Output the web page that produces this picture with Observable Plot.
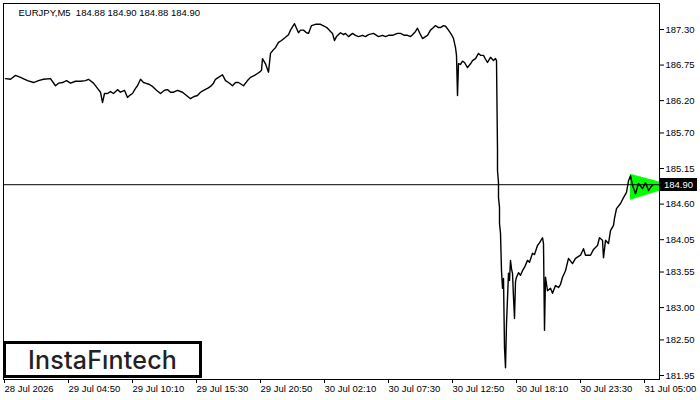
<!DOCTYPE html>
<html><head><meta charset="utf-8">
<script src="https://cdn.jsdelivr.net/npm/d3@7"></script>
<script src="https://cdn.jsdelivr.net/npm/@observablehq/plot@0.6"></script>
<style>
body{margin:0;background:#fff;}
#wrap{position:relative;width:700px;height:400px;overflow:hidden;}
#wrap svg{position:absolute;left:0;top:0;}
#logo{position:absolute;left:3px;top:341px;width:193px;height:31px;border:3px solid #000;background:#fff;font-family:Inter,"Noto Sans",sans-serif;font-weight:500;font-size:25px;color:#222;display:flex;align-items:center;justify-content:center;letter-spacing:0.2px;}
#pricebox{position:absolute;left:660px;width:37px;height:13px;background:#000;color:#fff;font-family:'Liberation Sans',Arial,sans-serif;font-size:9.5px;line-height:13px;text-indent:4px;box-sizing:border-box;}
</style></head><body><div id="wrap"></div>
<script>
const barIndex = [
2,7,12,17,24,30,35,40,47,52,55,59,63,67,72,77,82,85,90,94,97,99,101,104,107,110,114,117,121,124,127,129,132,134,137,140,142,146,149,153,157,161,164,167,170,174,179,183,187,190,194,197,200,204,207,210,212,215,219,222,
225,229,232,235,240,244,247,251,254,256,258,259,262,265,267,269,272,275,278,282,285,287,291,293,295,297,300,303,305,308,312,317,321,324,327,329,331,333,337,340,342,345,349,352,355,359,362,365,370,375,379,382,385,389,394,397,401,404,407,409,412,414,417,419,422,424,427,430,432,435,437,440,442,445,448,450,452,453,454,455,457,459,461,464,467,469,472,475,477,480,482,484,487,490,492,493,
494,494,495,495,496,496,497,498,499,500,501,502,503,505,506,507,508,509,510,511,512,513,515,517,519,521,524,526,529,531,534,536,539,540,541,542,544,547,549,552,555,557,559,562,565,569,572,577,580,582,587,590,594,596,599,600,602,605,607,610,611,613,617,620,623,625,627,629,632,635,639,642,645,647,649];
const price = [
186.54,186.53,186.59,186.56,186.51,186.48,186.51,186.53,186.54,186.43,186.47,186.48,186.51,186.47,186.50,186.50,186.51,186.53,186.47,186.39,186.33,186.17,186.31,186.31,186.34,186.31,186.37,186.33,186.36,186.25,186.29,186.31,186.39,186.43,186.53,186.48,186.47,186.45,186.42,186.36,186.31,186.36,186.37,186.33,186.33,186.36,186.33,186.28,186.23,186.26,186.28,186.33,186.36,186.39,186.42,186.47,186.53,186.56,186.60,186.51,
186.48,186.43,186.48,186.48,186.43,186.51,186.56,186.59,186.62,186.64,186.67,186.85,186.77,186.64,186.93,186.97,187.02,187.10,187.13,187.18,187.22,187.29,187.39,187.32,187.25,187.29,187.29,187.25,187.24,187.36,187.38,187.38,187.35,187.32,187.27,187.24,187.13,187.19,187.25,187.22,187.24,187.19,187.24,187.21,187.19,187.21,187.19,187.22,187.24,187.19,187.21,187.19,187.21,187.21,187.24,187.24,187.21,187.21,187.19,187.22,187.27,187.32,187.22,187.16,187.19,187.21,187.29,187.33,187.36,187.33,187.33,187.36,187.35,187.29,187.22,187.16,187.02,186.90,186.28,186.77,186.76,186.81,186.79,186.71,186.77,186.82,186.85,186.93,186.90,186.90,186.84,186.79,186.87,186.82,186.85,186.82,
185.43,185.12,184.93,184.70,184.55,184.30,184.15,183.57,183.30,183.45,182.38,182.07,182.75,183.53,183.42,183.73,183.60,183.53,183.16,182.83,183.40,183.47,183.54,183.50,183.57,183.62,183.73,183.70,183.84,183.82,183.96,184.00,184.08,183.99,182.65,183.47,183.26,183.30,183.22,183.34,183.31,183.36,183.47,183.57,183.76,183.68,183.76,183.81,183.91,183.81,183.81,183.90,183.96,184.08,184.04,183.77,184.04,183.99,184.19,184.27,184.38,184.53,184.61,184.70,184.78,184.96,185.04,184.89,184.76,184.92,184.84,184.93,184.81,184.86,184.89];

const yTicks = [187.30,186.75,186.20,185.70,185.15,184.60,184.05,183.55,183.00,182.50,181.95];
const xTicks = [0,64,128,192,256,320,384,448,512,576,640];
const xTickLabels = ["28 Jul 2026","29 Jul 04:50","29 Jul 10:10","29 Jul 15:30","29 Jul 20:50","30 Jul 02:10","30 Jul 07:30","30 Jul 12:50","30 Jul 18:10","30 Jul 23:30","31 Jul 05:00"];
const lastPrice = 184.90;
const titleText = "EURJPY,M5\u00a0\u00a0184.88 184.90 184.88 184.90";
const patternBars = [627, 656];
const patternLow = [184.66, 184.80];
const patternHigh = [185.06, 184.94];

const data = barIndex.map((b, i) => ({bar: b, price: price[i]}));
const tri = patternBars.map((b, i) => ({bar: b, lo: patternLow[i], hi: patternHigh[i]}));

const chart = Plot.plot({
  width: 700, height: 400,
  marginLeft: 3, marginRight: 41, marginTop: 3, marginBottom: 21,
  style: {fontFamily: "'Liberation Sans', Arial, sans-serif", fontSize: "9.5px", background: "#fff", color: "#000"},
  x: {domain: [0, 656]},
  y: {domain: [181.888, 187.702]},
  marks: [
    Plot.areaY(tri, {x: "bar", y1: "lo", y2: "hi", fill: "#00ff00", curve: "linear"}),
    Plot.ruleY([lastPrice], {stroke: "#000", strokeWidth: 1}),
    Plot.line(data, {x: "bar", y: "price", stroke: "#000", strokeWidth: 1.4}),
    Plot.frame({stroke: "#000"}),
    Plot.axisY(yTicks, {anchor: "right", tickSize: 4, tickPadding: 2, tickFormat: d => d.toFixed(2), label: null, fill: "#000", stroke: "#000"}),
    Plot.axisX(xTicks, {anchor: "bottom", tickSize: 4, tickPadding: 2, tickFormat: d => xTickLabels[xTicks.indexOf(d)], textAnchor: "start", dx: 1, label: null, fill: "#000", stroke: "#000"}),
    Plot.text([titleText], {text: d => d, frameAnchor: "top-left", dx: 15, dy: 9, textAnchor: "start", lineAnchor: "middle", fill: "#000"})
  ]
});

const wrap = document.getElementById("wrap");
wrap.appendChild(chart);

const yPix = chart.scale("y").apply(lastPrice);
const box = document.createElement("div");
box.id = "pricebox";
box.style.top = (Math.round(yPix) - 6) + "px";
box.textContent = lastPrice.toFixed(2);
wrap.appendChild(box);

const logo = document.createElement("div");
logo.id = "logo";
logo.textContent = "InstaF\u0131ntech";
wrap.appendChild(logo);
</script>
</body></html>
